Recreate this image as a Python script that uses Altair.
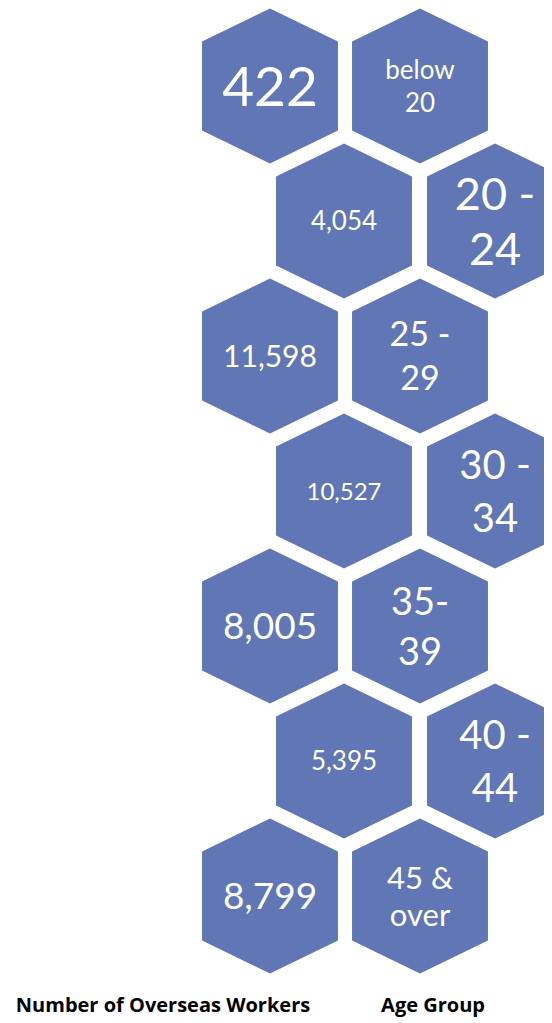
import altair as alt
import pandas as pd

# ---- data ----
age_groups = ["below\n20", "20 -\n24", "25 -\n29", "30 -\n34", "35-\n39", "40 -\n44", "45 &\nover"]
workers = [422, 4054, 11598, 10527, 8005, 5395, 8799]
titles = ["Number of Overseas Workers", "Age Group"]

# ---- styles (per hexagon) ----
worker_font = [55, 26, 30, 24, 37, 26, 37]
age_font = [26, 45, 34, 40, 38, 40, 31]
age_line = [33, 55, 44, 53, 50, 53, 37]

HEX_COLOR = "#6076B5"
FONT = "Lato"
TITLE_FONT = "Open Sans"
HEX = "M0,-1 L0.877,-0.575 L0.877,0.575 L0,1 L-0.877,0.575 L-0.877,-0.575 Z"

# ---- layout (page pixel coordinates) ----
ROW_Y0, ROW_STEP = 86, 135
ODD_X = (270, 420)
EVEN_X = (344, 495)

hex_rows, num_rows, age_rows = [], [], []
for i, (w, a) in enumerate(zip(workers, age_groups)):
    cy = ROW_Y0 + ROW_STEP * i
    xn, xa = ODD_X if i % 2 == 0 else EVEN_X
    hex_rows.append({"x": xn, "y": cy})
    hex_rows.append({"x": xa, "y": cy})
    fs = worker_font[i]
    num_rows.append({"x": xn, "y": cy + 0.36 * fs, "t": f"{w:,}", "fs": fs})
    lines = a.split("\n")
    fa, lh = age_font[i], age_line[i]
    b1 = cy - lh * (len(lines) - 1) / 2 + 0.36 * fa
    for k, ln in enumerate(lines):
        age_rows.append({"x": xa, "y": b1 + k * lh, "t": ln, "fs": fa})

title_df = pd.DataFrame({"x": [163, 433], "y": [1012, 1012], "t": titles})

W, H = 536, 1012
xs = alt.Scale(domain=[8, 8 + W], nice=False, zero=False)
ys = alt.Scale(domain=[8, 8 + H], nice=False, zero=False, reverse=True)
X = lambda: alt.X("x:Q", scale=xs, axis=None)
Y = lambda: alt.Y("y:Q", scale=ys, axis=None)

hexes = alt.Chart(pd.DataFrame(hex_rows)).mark_point(
    shape=HEX, size=155 * 155, filled=True, color=HEX_COLOR, opacity=1, strokeWidth=0
).encode(x=X(), y=Y())

nums = alt.Chart(pd.DataFrame(num_rows)).mark_text(
    font=FONT, color="white", align="center", baseline="alphabetic"
).encode(x=X(), y=Y(), text="t:N", size=alt.Size("fs:Q", scale=None))

ages = alt.Chart(pd.DataFrame(age_rows)).mark_text(
    font=FONT, color="white", align="center", baseline="alphabetic"
).encode(x=X(), y=Y(), text="t:N", size=alt.Size("fs:Q", scale=None))

title_layer = alt.Chart(title_df).mark_text(
    font=TITLE_FONT, fontWeight="bold", fontSize=20, color="black", align="center", baseline="alphabetic"
).encode(x=X(), y=Y(), text="t:N")

chart = alt.layer(hexes, nums, ages, title_layer).properties(
    width=W, height=H, padding=0, autosize=alt.AutoSizeParams(type="none")
).configure_view(stroke=None)

chart.save("out.html", embed_options={"renderer": "svg", "actions": False})
